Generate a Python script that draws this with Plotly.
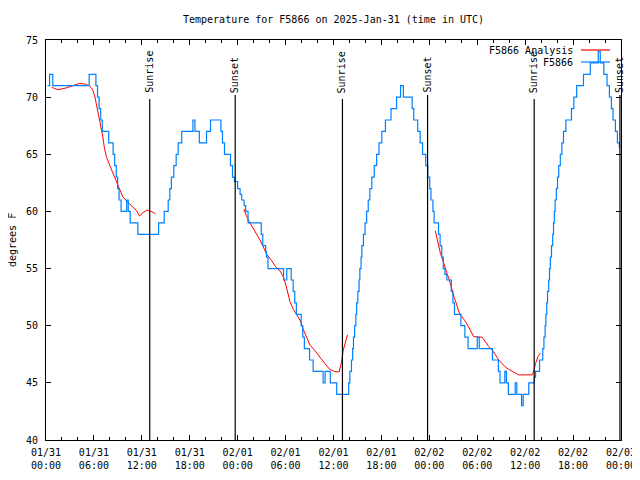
import plotly.graph_objects as go

# ---------------- data ----------------
# observed temperature (F5866): time in hours since 2025-01-31 00:00 UTC where the value changes
blue_hours = [0.2, 0.45, 0.85, 5.4, 6.25, 6.45, 6.65, 6.85, 7.05, 7.85, 8.4, 8.6, 8.8, 8.97, 9.15, 9.4,
              10.1, 10.3, 10.55, 11.5, 14.1, 14.8, 15.3, 15.5, 15.7, 16.0, 16.3, 16.55, 17.0, 18.4, 18.65,
              19.2, 20.1, 20.6, 21.9, 22.1, 22.35, 23.1, 23.35, 23.6, 24.0, 24.3, 24.5, 24.8, 25.0, 25.3,
              26.95, 27.15, 27.5, 27.6, 27.8, 29.75, 30.15, 30.7, 30.95, 31.15, 31.35, 31.95, 32.15, 32.35,
              33.0, 33.45, 34.7, 34.95, 35.6, 36.4, 37.9, 38.05, 38.25, 38.4, 38.5, 38.65, 38.8, 38.9, 39.05,
              39.2, 39.3, 39.45, 39.55, 39.75, 39.95, 40.15, 40.35, 40.55, 40.8, 41.1, 41.4, 41.7, 42.05,
              42.5, 43.2, 43.9, 44.4, 44.75, 45.85, 46.05, 46.55, 46.85, 47.15, 47.55, 47.8, 48.05, 48.2,
              48.45, 48.6, 49.15, 49.35, 49.55, 49.75, 49.95, 50.2, 50.75, 50.95, 51.15, 51.95, 52.45, 52.85,
              54.0, 54.25, 55.9, 56.65, 56.85, 57.45, 57.65, 57.9, 58.75, 58.95, 59.55, 59.75, 60.45, 61.15,
              61.3, 61.8, 62.2, 62.35, 62.5, 62.6, 62.7, 62.8, 62.95, 63.05, 63.15, 63.3, 63.45, 63.55, 63.65,
              63.75, 63.9, 64.05, 64.2, 64.4, 64.6, 64.8, 65.1, 65.8, 66.1, 66.45, 67.3, 68.15, 69.15, 69.4,
              69.85, 70.25, 70.55, 70.8, 71.0, 71.3, 71.55, 71.8]
blue_temps = [71, 72, 71, 72, 71, 70, 69, 68, 67, 66, 65, 64, 63, 62, 61, 60,
              61, 60, 59, 58, 59, 60, 61, 62, 63, 64, 65, 66, 67, 68, 67,
              66, 67, 68, 67, 66, 65, 64, 63, 62.6, 62, 61.5, 61, 60.5, 60, 59,
              58, 57, 56.5, 56, 55, 54, 55, 54, 53, 52, 51, 50, 49, 48,
              47, 46, 45, 46, 45, 44, 45, 46, 47, 48, 49, 50, 51, 52, 53,
              54, 55, 56, 57, 58, 59, 60, 61, 62, 63, 64, 65, 66, 67,
              68, 69, 70, 71, 70, 69, 68, 67, 66, 65, 64, 63, 62, 61,
              60, 59, 58, 57, 56, 55, 54.5, 54, 53, 52, 51, 50, 49, 48,
              49, 48, 47, 46, 45, 46, 45, 44, 45, 44, 43, 44, 45, 45.5,
              46, 47, 48, 49, 50, 51, 52, 53, 54, 55, 56, 57, 58, 59, 60,
              61, 62, 63, 64, 65, 66, 67, 68, 69, 70, 71, 72, 73, 74, 73,
              72, 71, 70, 69, 68, 67, 66, 65.5]

# analysis (F5866 Analysis), three separate periods
red1_hours = [0.75, 1.5, 2.5, 3.4, 4.2, 4.8, 5.4, 5.8, 6.1, 6.5, 6.9, 7.1, 7.3, 7.55, 8.0, 8.4, 8.8,
              9.2, 9.6, 10.1, 10.7, 11.3, 11.7, 12.15, 12.6, 13.2, 13.7]
red1_temps = [70.85, 70.65, 70.8, 71.0, 71.2, 71.15, 71.0, 70.7, 70.1, 68.7, 67.4, 66.6, 65.6, 64.8,
              64.0, 63.3, 62.6, 61.9, 61.3, 60.9, 60.5, 60.1, 59.6, 59.9, 60.1, 60.0, 59.8]
red2_hours = [24.8, 25.1, 25.45, 25.95, 26.4, 26.8, 27.2, 27.6, 28.25, 28.8, 29.3, 29.7, 30.1, 30.55,
              31.0, 31.4, 31.8, 32.2, 32.65, 33.06, 33.7, 34.3, 34.9, 35.5, 36.1, 36.7, 37.0, 37.2,
              37.45, 37.75]
red2_temps = [60.2, 59.6, 59.1, 58.5, 58.0, 57.5, 56.9, 56.3, 55.7, 55.1, 54.8, 54.3, 53.4, 52.1,
              51.4, 51.0, 50.5, 49.7, 48.9, 48.3, 47.8, 47.2, 46.7, 46.2, 46.0, 45.95, 46.8, 47.8,
              48.4, 49.2]
red3_hours = [48.75, 49.0, 49.15, 49.4, 49.6, 49.8, 50.0, 50.2, 50.5, 50.8, 51.1, 51.4, 51.7, 51.95,
              52.3, 52.6, 52.9, 53.2, 53.55, 54.2, 54.6, 55.15, 55.4, 55.85, 56.3, 56.7, 57.1, 57.5,
              57.9, 58.4, 58.8, 59.2, 60.25, 60.9, 61.1, 61.3, 61.6, 61.9]
red3_temps = [58.3, 57.5, 56.9, 56.3, 55.9, 55.4, 55.0, 54.6, 54.0, 53.2, 52.5, 51.9, 51.2, 50.9,
              50.6, 50.3, 49.9, 49.5, 49.05, 49.0, 49.0, 48.5, 48.2, 47.9, 47.4, 47.0, 46.7, 46.4,
              46.2, 46.0, 45.85, 45.7, 45.7, 45.7, 46.1, 46.7, 47.3, 47.6]

sunrise_hours = [12.99, 37.12, 61.13]
sunset_hours = [23.69, 47.78, 71.87]

tick_hours = [0, 6, 12, 18, 24, 30, 36, 42, 48, 54, 60, 66, 72]
tick_labels = ["01/31<br>00:00", "01/31<br>06:00", "01/31<br>12:00", "01/31<br>18:00",
               "02/01<br>00:00", "02/01<br>06:00", "02/01<br>12:00", "02/01<br>18:00",
               "02/02<br>00:00", "02/02<br>06:00", "02/02<br>12:00", "02/02<br>18:00",
               "02/03<br>00:00"]
y_ticks = [40, 45, 50, 55, 60, 65, 70, 75]

title_text = "Temperature for F5866 on 2025-Jan-31 (time in UTC)"
legend_names = ["F5866 Analysis", "F5866"]
colors = ["#ff0000", "#0080ff"]

# ---------------- figure ----------------
FONT = "DejaVu Sans Mono"
OFF = 8                      # page body margin of the html document
W, H = 640, 480 - 2 * OFF    # keep page height within the window (no vertical scrollbar)
ML, MR, MT = 46 - OFF, 19 + OFF, 40 - OFF
MB = OFF + H - 440
PW, PH = W - ML - MR, H - MT - MB


def px(xp):
    """window pixel x -> paper fraction"""
    return (xp - OFF - ML) / PW


def py(yp):
    """window pixel y -> paper fraction"""
    return (H - MB - (yp - OFF)) / PH


red_x = red1_hours + [None] + red2_hours + [None] + red3_hours
red_y = red1_temps + [None] + red2_temps + [None] + red3_temps

fig = go.Figure()
fig.add_trace(go.Scatter(x=red_x, y=red_y, mode="lines", name=legend_names[0],
                         line=dict(color=colors[0], width=1), connectgaps=False))
fig.add_trace(go.Scatter(x=blue_hours, y=blue_temps, mode="lines", name=legend_names[1],
                         line=dict(color=colors[1], width=1.2, shape="hv")))

shapes = []
annotations = []
for h in sunrise_hours:
    shapes.append(dict(type="line", xref="x", yref="paper", x0=h, x1=h, y0=0, y1=py(99),
                       line=dict(color="black", width=1.2)))
    annotations.append(dict(text="Sunrise", x=h, xref="x", y=py(95), yref="paper",
                            textangle=-90, showarrow=False, xanchor="center", yanchor="bottom",
                            font=dict(family=FONT, size=10, color="black")))
for h in sunset_hours:
    shapes.append(dict(type="line", xref="x", yref="paper", x0=h, x1=h, y0=0, y1=py(95),
                       line=dict(color="black", width=1.2)))
    annotations.append(dict(text="Sunset", x=h, xref="x", y=py(95), yref="paper",
                            textangle=-90, showarrow=False, xanchor="center", yanchor="bottom",
                            font=dict(family=FONT, size=10, color="black")))

# legend drawn gnuplot-style (text right, sample line after it)
for i, (name, col) in enumerate(zip(legend_names, colors)):
    yy = 50 + 12 * i
    annotations.append(dict(text=name, x=px(575), xref="paper", y=py(yy), yref="paper",
                            showarrow=False, xanchor="right", yanchor="middle",
                            font=dict(family=FONT, size=10, color="black")))
    shapes.append(dict(type="line", xref="paper", yref="paper", x0=px(581), x1=px(610),
                       y0=py(yy), y1=py(yy), line=dict(color=col, width=1.2)))

annotations.append(dict(text=title_text, x=0.5, xref="paper", y=py(20), yref="paper",
                        showarrow=False, xanchor="center", yanchor="middle",
                        font=dict(family=FONT, size=10, color="black")))
annotations.append(dict(text="degrees F", x=px(12), xref="paper", y=0.5, yref="paper",
                        textangle=-90, showarrow=False, xanchor="center", yanchor="middle",
                        font=dict(family=FONT, size=10, color="black")))

fig.update_layout(
    width=W, height=H, autosize=False,
    margin=dict(l=ML, r=MR, t=MT, b=MB, pad=0, autoexpand=False),
    paper_bgcolor="white", plot_bgcolor="white",
    showlegend=False,
    shapes=shapes, annotations=annotations,
    font=dict(family=FONT, size=10, color="black"),
    xaxis=dict(range=[0, 72], tickvals=tick_hours, ticktext=tick_labels,
               ticks="inside", ticklen=5, tickcolor="black", showline=True, linecolor="black",
               linewidth=1, mirror="ticks", showgrid=False, zeroline=False, ticklabelstandoff=3,
               ticklabeloverflow="allow",
               minor=dict(dtick=2, ticks="inside", ticklen=3, tickcolor="black", showgrid=False),
               tickfont=dict(family=FONT, size=10, color="black")),
    yaxis=dict(range=[40, 75], tickvals=y_ticks, ticks="inside", ticklen=5, tickcolor="black",
               showline=True, linecolor="black", linewidth=1, mirror="ticks", showgrid=False,
               zeroline=False, ticklabelstandoff=5,
               tickfont=dict(family=FONT, size=10, color="black")),
)

fig.write_html("out.html")
